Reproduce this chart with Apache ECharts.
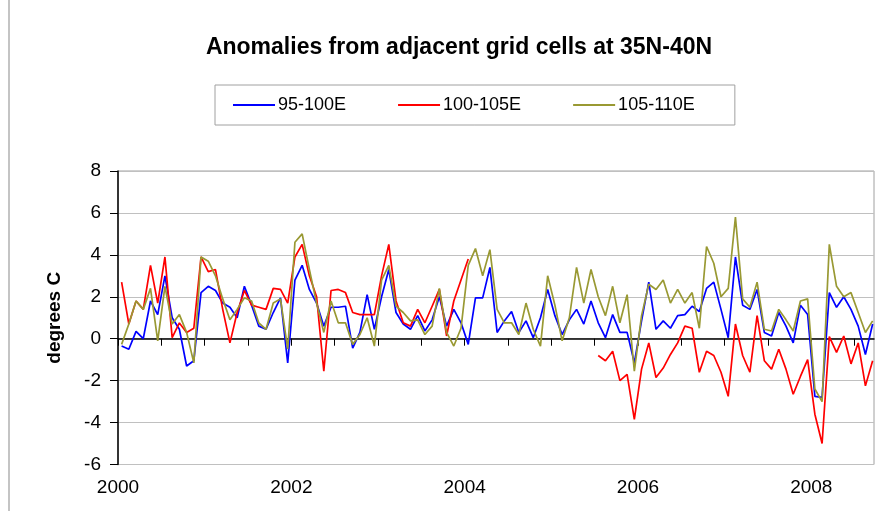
<!DOCTYPE html>
<html>
<head>
<meta charset="utf-8">
<script src="https://cdn.jsdelivr.net/npm/echarts@6/dist/echarts.min.js"></script>
<style>
  html, body { margin: 0; padding: 0; background: #fff; }
  #chart { width: 883px; height: 511px; }
</style>
</head>
<body>
<div id="chart"></div>
<script>
const FONT = 'Arial, "Liberation Sans", sans-serif';

// monthly anomalies, Jan 2000 .. Sep 2008 (degrees C)
const START_YEAR = 2000;
const blue95 = [
  -0.35, -0.5, 0.35, 0.0, 1.8, 1.15, 3.0, 1.0, 0.45, -1.3, -1.05, 2.2,
  2.5, 2.3, 1.7, 1.5, 1.0, 2.5, 1.6, 0.6, 0.45, 1.25, 1.95, -1.15,
  2.8, 3.5, 2.35, 1.7, 0.6, 1.5, 1.5, 1.55, -0.45, 0.3, 2.1, 0.45,
  2.0, 3.3, 1.25, 0.7, 0.45, 1.1, 0.37, 0.9, 2.0, 0.6, 1.4, 0.76,
  -0.27, 1.95, 1.95, 3.4, 0.3, 0.85, 1.3, 0.3, 0.85, 0.05, 1.0, 2.35,
  1.1, 0.2, 0.9, 1.4, 0.7, 1.8, 0.76, 0.05, 1.15, 0.3, 0.3, -1.15,
  0.85, 2.7, 0.45, 0.85, 0.5, 1.1, 1.15, 1.55, 1.3, 2.4, 2.7, 1.4,
  0.05, 3.9, 1.6, 1.4, 2.35, 0.3, 0.13, 1.25, 0.6, -0.2, 1.6, 1.15,
  -2.75, -2.8, 2.2, 1.5, 2.0, 1.4, 0.6, -0.75, 0.7
];
const red100 = [
  2.7, 0.7, 1.8, 1.4, 3.5, 1.7, 3.9, 0.05, 0.75, 0.3, 0.5, 3.9,
  3.2, 3.3, 1.4, -0.2, 1.25, 2.3, 1.6, 1.5, 1.4, 2.4, 2.35, 1.7,
  3.9, 4.5, 3.0, 2.0, -1.55, 2.3, 2.35, 2.2, 1.25, 1.15, 1.15, 1.15,
  3.0, 4.5, 1.8, 0.76, 0.6, 1.4, 0.76, 1.55, 2.35, 0.13, 1.8, 2.8,
  3.8, null, null, null, null, null, null, null, null, null, null, null,
  null, null, null, null, null, null, -0.8, -1.05, -0.6, -2.0, -1.7, -3.85,
  -1.45, -0.2, -1.85, -1.4, -0.75, -0.2, 0.6, 0.5, -1.6, -0.6, -0.8, -1.6,
  -2.75, 0.7, -0.8, -1.6, 1.1, -1.05, -1.45, -0.5, -1.45, -2.65, -1.8, -1.0,
  -3.6, -5.0, 0.1, -0.65, 0.13, -1.2, -0.2, -2.25, -1.05
];
const olive105 = [
  -0.27, 0.7, 1.8, 1.4, 2.4, -0.1, 2.5, 0.7, 1.15, 0.3, -1.15, 3.9,
  3.7, 3.0, 1.9, 0.9, 1.4, 1.95, 1.8, 0.75, 0.45, 1.7, 1.9, -0.5,
  4.6, 5.0, 3.3, 1.7, 0.3, 1.8, 0.76, 0.76, -0.27, 0.2, 1.0, -0.35,
  2.8, 3.5, 1.55, 1.25, 0.85, 0.9, 0.2, 0.6, 2.4, 0.3, -0.35, 0.5,
  3.5, 4.3, 3.0, 4.25, 1.4, 0.76, 0.76, 0.2, 1.7, 0.45, -0.35, 3.0,
  1.6, -0.1, 1.0, 3.4, 1.7, 3.3, 2.0, 1.1, 2.5, 0.76, 2.1, -1.55,
  1.1, 2.6, 2.35, 2.8, 1.7, 2.35, 1.7, 2.2, 0.5, 4.4, 3.6, 2.0,
  2.4, 5.8, 1.9, 1.5, 2.7, 0.45, 0.37, 1.4, 0.9, 0.37, 1.8, 1.9,
  -2.4, -3.0, 4.5, 2.5, 2.0, 2.2, 1.25, 0.3, 0.85
];

const seriesNames = ['95-100E', '100-105E', '105-110E'];
const seriesColors = ['#0000ff', '#ff0000', '#999933'];
const xTickValues = [2000, 2000.5, 2001, 2001.5, 2002, 2002.5, 2003, 2003.5, 2004,
  2004.5, 2005, 2005.5, 2006, 2006.5, 2007, 2007.5, 2008, 2008.5];
const xLabelValues = [2000, 2002, 2004, 2006, 2008];

// month i sits mid-month
const toPoints = (arr) => arr.map((v, i) => [START_YEAR + (i + 0.5) / 12, v]);

const chart = echarts.init(document.getElementById('chart'), null, { renderer: 'canvas' });

chart.setOption({
  backgroundColor: '#fff',
  animation: false,
  textStyle: { fontFamily: FONT },
  title: {
    text: 'Anomalies from adjacent grid cells at 35N-40N',
    left: 454, top: 31, textAlign: 'center',
    textStyle: { fontFamily: FONT, fontSize: 23, fontWeight: 'bold', color: '#000' },
  },
  legend: {
    left: 215, top: 85,
    padding: [11, 40, 11, 18],
    itemGap: 52,
    itemWidth: 42, itemHeight: 2,
    icon: 'rect',
    borderColor: '#a0a0a0', borderWidth: 1,
    textStyle: { fontFamily: FONT, fontSize: 18, color: '#000', padding: [0, 0, 0, -2] },
    data: seriesNames,
  },
  grid: {
    left: 118, right: 9, top: 171, bottom: 46.5,
    show: true, borderColor: '#a0a0a0', borderWidth: 1,
  },
  xAxis: {
    type: 'value',
    min: 2000, max: 2008.724,
    axisLine: { lineStyle: { color: '#000', width: 1.5 } },
    axisTick: { show: true, length: 7, customValues: xTickValues, lineStyle: { color: '#000' } },
    axisLabel: {
      customValues: xLabelValues, margin: 14,
      color: '#000', fontSize: 19, fontFamily: FONT,
      formatter: (v) => String(v),
    },
    splitLine: { show: false },
  },
  yAxis: {
    type: 'value',
    min: -6, max: 8, interval: 2,
    name: 'degrees C',
    nameLocation: 'middle', nameGap: 54, nameRotate: 90,
    nameTextStyle: { fontFamily: FONT, fontSize: 19, fontWeight: 'bold', color: '#000' },
    axisLine: { show: true, lineStyle: { color: '#000', width: 1.5 } },
    axisTick: { show: true, length: 8, lineStyle: { color: '#000' } },
    axisLabel: { color: '#000', fontSize: 19, fontFamily: FONT, margin: 17 },
    splitLine: { lineStyle: { color: '#c0c0c0', width: 1 } },
  },
  graphic: [{
    type: 'line', shape: { x1: 9, y1: 0, x2: 9, y2: 511 },
    style: { stroke: '#b0b0b0', lineWidth: 1.5 }, silent: true,
  }],
  series: [blue95, red100, olive105].map((arr, k) => ({
    name: seriesNames[k],
    type: 'line',
    data: toPoints(arr),
    showSymbol: false, symbol: 'none',
    connectNulls: false,
    lineStyle: { color: seriesColors[k], width: 1.7 },
    itemStyle: { color: seriesColors[k] },
  })),
});
</script>
</body>
</html>
